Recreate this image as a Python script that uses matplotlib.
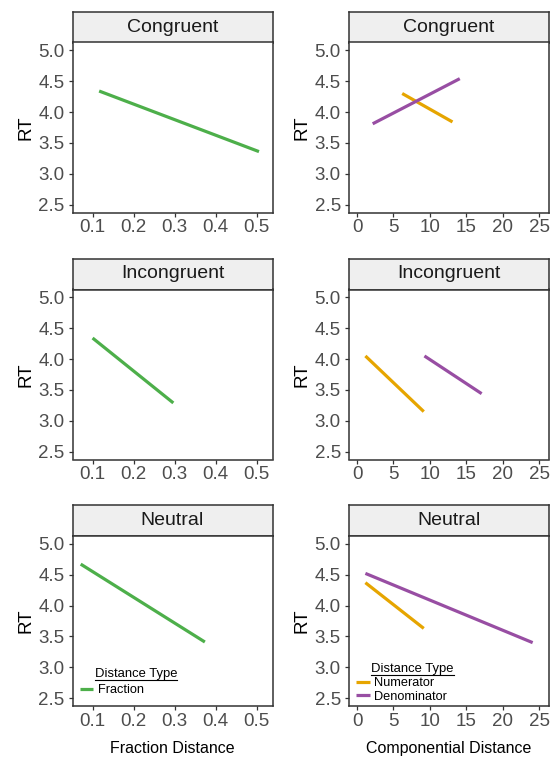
import matplotlib
matplotlib.use("Agg")
import matplotlib.pyplot as plt
from matplotlib.lines import Line2D

plt.rcParams['font.family'] = ['Liberation Sans', 'DejaVu Sans']

# ---------------- data ----------------
conditions = ["Congruent", "Incongruent", "Neutral"]

frac_x = {"Congruent": [0.116, 0.506],
          "Incongruent": [0.10, 0.297],
          "Neutral": [0.071, 0.374]}
frac_y = {"Congruent": [4.34, 3.36],
          "Incongruent": [4.34, 3.29],
          "Neutral": [4.67, 3.41]}

num_x = {"Congruent": [6.2, 13.1],
         "Incongruent": [1.15, 9.16],
         "Neutral": [1.15, 9.16]}
num_y = {"Congruent": [4.30, 3.84],
         "Incongruent": [4.05, 3.15],
         "Neutral": [4.37, 3.63]}

den_x = {"Congruent": [2.15, 14.1],
         "Incongruent": [9.25, 17.1],
         "Neutral": [1.15, 24.1]}
den_y = {"Congruent": [3.81, 4.54],
         "Incongruent": [4.05, 3.44],
         "Neutral": [4.52, 3.40]}

y_ticks = [2.5, 3.0, 3.5, 4.0, 4.5, 5.0]
frac_ticks = [0.1, 0.2, 0.3, 0.4, 0.5]
comp_ticks = [0, 5, 10, 15, 20, 25]

GREEN = "#4DAF4A"
ORANGE = "#E6A500"
PURPLE = "#984EA3"

# ---------------- layout ----------------
W, H = 552, 760
fig = plt.figure(figsize=(W / 100, H / 100), dpi=100)

col_left = [72.5, 348.7]
panel_w = 200
strip_tops = [11.5, 258.5, 505.0]
strip_h = 31
panel_h = 170

def px_axes(x, top, w, h):
    return fig.add_axes([x / W, 1 - (top + h) / H, w / W, h / H])

TICK_COL = "#333333"
LAB_COL = "#4D4D4D"
LW = 2.3
titles = []

for r, cond in enumerate(conditions):
    for c in range(2):
        x0 = col_left[c]
        st = strip_tops[r]
        # strip
        sax = px_axes(x0, st, panel_w, strip_h)
        sax.set_facecolor("#EFEFEF")
        sax.set_xticks([]); sax.set_yticks([])
        for s in sax.spines.values():
            s.set_color("#333333"); s.set_linewidth(1.1)
        sax.text(0.5, 0.5, cond, ha="center", va="center", fontsize=14,
                 color="#1A1A1A", transform=sax.transAxes)

        ax = px_axes(x0, st + strip_h, panel_w, panel_h)
        for s in ax.spines.values():
            s.set_color("#333333"); s.set_linewidth(1.1)
        ax.set_ylim(2.375, 5.125)
        ax.set_yticks(y_ticks)
        ax.set_yticklabels([f"{v:.1f}" for v in y_ticks])
        ax.tick_params(axis="both", direction="out", length=3.2, width=0.9,
                       color=TICK_COL, labelcolor=LAB_COL, labelsize=13.5)
        ax.tick_params(axis="x", pad=1.5)
        ax.tick_params(axis="y", pad=2.5)
        ax.set_ylabel("RT", fontsize=13.5, color="black", labelpad=3)

        if c == 0:
            ax.set_xlim(0.051, 0.539)
            ax.set_xticks(frac_ticks)
            ax.set_xticklabels([f"{v:.1f}" for v in frac_ticks])
            ax.plot(frac_x[cond], frac_y[cond], color=GREEN, lw=LW,
                    solid_capstyle="butt", label="Fraction")
            if r == 2:
                ax.set_xlabel("Fraction Distance", fontsize=11.5, labelpad=8)
        else:
            ax.set_xlim(-1.14, 26.3)
            ax.set_xticks(comp_ticks)
            ax.plot(num_x[cond], num_y[cond], color=ORANGE, lw=LW,
                    solid_capstyle="butt", label="Numerator")
            ax.plot(den_x[cond], den_y[cond], color=PURPLE, lw=LW,
                    solid_capstyle="butt", label="Denominator")
            if r == 2:
                ax.set_xlabel("Componential Distance", fontsize=11.5, labelpad=8)

        if r == 2:
            leg = ax.legend(loc="center left", bbox_to_anchor=(0.0375, 0.094),
                            frameon=False, fontsize=9.2, handlelength=1.05,
                            handletextpad=0.35, labelspacing=0.12,
                            borderpad=0, borderaxespad=0)
            ty = 0.17 if c == 0 else 0.198
            t = ax.text(0.112, ty, "Distance Type",
                        transform=ax.transAxes, fontsize=9.4, ha="left",
                        va="baseline", color="black")
            titles.append(t)

fig.canvas.draw()
renderer = fig.canvas.get_renderer()
for t in titles:
    bb = t.get_window_extent(renderer)
    yb = bb.y0 + 0.5
    fig.add_artist(Line2D([bb.x0 / W, bb.x1 / W], [yb / H, yb / H],
                          transform=fig.transFigure, color="black", lw=0.8))

fig.savefig("out.png", dpi=100)
